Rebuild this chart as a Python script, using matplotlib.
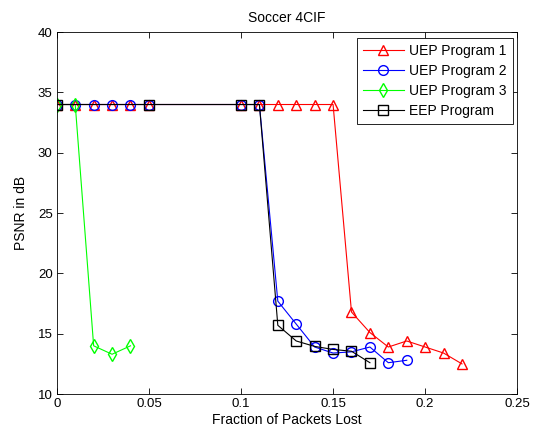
import numpy as np
import matplotlib
matplotlib.use('Agg')
import matplotlib.pyplot as plt

plt.rcParams['font.family'] = ['Liberation Sans', 'DejaVu Sans']
plt.rcParams['font.size'] = 9

# data
x_uep1 = [0, 0.01, 0.02, 0.03, 0.04, 0.05, 0.10, 0.11, 0.12, 0.13, 0.14, 0.15,
          0.16, 0.17, 0.18, 0.19, 0.20, 0.21, 0.22]
y_uep1 = [34, 34, 34, 34, 34, 34, 34, 34, 34, 34, 34, 34,
          16.8, 15.1, 13.9, 14.4, 13.9, 13.4, 12.5]

x_uep2 = [0, 0.01, 0.02, 0.03, 0.04, 0.05, 0.10, 0.11, 0.12, 0.13, 0.14, 0.15,
          0.16, 0.17, 0.18, 0.19]
y_uep2 = [34, 34, 34, 34, 34, 34, 34, 34, 17.7, 15.8, 13.9, 13.4,
          13.5, 13.9, 12.6, 12.8]

x_uep3 = [0, 0.01, 0.02, 0.03, 0.04]
y_uep3 = [34, 34, 14.0, 13.3, 14.0]

x_eep = [0, 0.05, 0.10, 0.11, 0.12, 0.13, 0.14, 0.15, 0.16, 0.17]
y_eep = [34, 34, 34, 34, 15.7, 14.4, 13.95, 13.7, 13.55, 12.6]

xticks = [0, 0.05, 0.1, 0.15, 0.2, 0.25]
xtick_labels = ['0', '0.05', '0.1', '0.15', '0.2', '0.25']
yticks = [10, 15, 20, 25, 30, 35, 40]

fig = plt.figure(figsize=(5.36, 4.34), dpi=100)
ax = fig.add_axes([0.106, 0.092, 0.859, 0.834])

ms = 7
ax.plot(x_uep1, y_uep1, '-^', color='#ff0000', mfc='none', ms=ms, lw=0.8, label='UEP Program 1')
ax.plot(x_uep2, y_uep2, '-o', color='#0000ff', mfc='none', ms=ms, lw=0.8, label='UEP Program 2')
ax.plot(x_uep3, y_uep3, '-d', color='#00ff00', mfc='none', ms=ms, lw=0.8, label='UEP Program 3')
ax.plot(x_eep, y_eep, '-s', color='#000000', mfc='none', ms=ms, lw=0.8, label='EEP Program')

ax.set_xlim(0, 0.25)
ax.set_ylim(10, 40)
ax.set_xticks(xticks)
ax.set_xticklabels(xtick_labels)
ax.set_yticks(yticks)
ax.tick_params(direction='in', top=True, right=True, length=4, width=0.6,
               labelsize=9.5, pad=3)
for sp in ax.spines.values():
    sp.set_linewidth(0.6)

ax.set_title('Soccer 4CIF', fontsize=10, pad=7)
ax.set_xlabel('Fraction of Packets Lost', fontsize=10, labelpad=2)
ax.set_ylabel('PSNR in dB', fontsize=10, labelpad=7)

leg = ax.legend(loc='upper right', bbox_to_anchor=(513 / 536, 1 - 38 / 434),
                bbox_transform=fig.transFigure, borderaxespad=0,
                numpoints=1, fontsize=10, handlelength=2.9,
                fancybox=False, edgecolor='black', framealpha=1,
                labelspacing=0.42, borderpad=0.45, handletextpad=0.4)
leg.get_frame().set_linewidth(0.6)

plt.savefig('out.png', dpi=100)
